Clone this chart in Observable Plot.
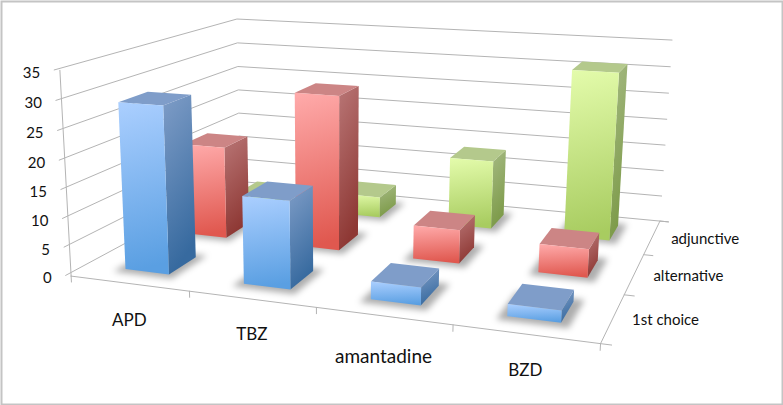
<!DOCTYPE html>
<html>
<head>
<meta charset="utf-8">
<script src="https://cdn.jsdelivr.net/npm/d3@7"></script>
<script src="https://cdn.jsdelivr.net/npm/@observablehq/plot@0.6"></script>
<style>html,body{margin:0;padding:0;background:#fff}svg{display:block}</style>
</head>
<body>
<div id="chart"></div>
<script>
const categories = ["APD", "TBZ", "amantadine", "BZD"];
const seriesNames = ["1st choice", "alternative", "adjunctive"];
const firstChoice = [29, 15, 3, 2];
const alternative = [17, 28, 6, 5];
const adjunctive = [2, 4, 13, 31];
const valueTicks = [0, 5, 10, 15, 20, 25, 30, 35];
const seriesValues = [firstChoice, alternative, adjunctive];
const palettes = [
  {id: "b", frontA: "#abcfff", frontB: "#5a9fe2", sideA: "#7f9dc7", sideB: "#376a9f", top: "#7f9dc9"},
  {id: "r", frontA: "#ffabab", frontB: "#e0584f", sideA: "#b97676", sideB: "#8e3834", top: "#cc8585"},
  {id: "g", frontA: "#e4fcac", frontB: "#a8cc60", sideA: "#a6ba84", sideB: "#7c9a48", top: "#b4c98c"}
];

// Perspective camera fitted to the box corners (u along categories, v into depth, w up)
const corners = [
  [0, 0, 0, 72, 274.7], [1, 0, 0, 600, 344], [1, 1, 0, 660, 219.5], [0, 1, 0, 238, 182],
  [0, 0, 1, 58, 70], [0, 1, 1, 238, 18], [1, 1, 1, 671, 40]
];
function fitCamera(pts) {
  const rows = [], rhs = [];
  for (const [u, v, w, x, y] of pts) {
    rows.push([u, v, w, 1, 0, 0, 0, 0, -x * u, -x * v, -x * w]); rhs.push(x);
    rows.push([0, 0, 0, 0, u, v, w, 1, -y * u, -y * v, -y * w]); rhs.push(y);
  }
  const n = 11, M = [];
  for (let i = 0; i < n; i++) {
    M[i] = [];
    for (let j = 0; j < n; j++) M[i][j] = d3.sum(rows, r => r[i] * r[j]);
    M[i][n] = d3.sum(rows, (r, k) => r[i] * rhs[k]);
  }
  for (let c = 0; c < n; c++) {
    let p = c;
    for (let i = c + 1; i < n; i++) if (Math.abs(M[i][c]) > Math.abs(M[p][c])) p = i;
    [M[c], M[p]] = [M[p], M[c]];
    for (let i = 0; i < n; i++) if (i !== c) {
      const f = M[i][c] / M[c][c];
      for (let j = c; j <= n; j++) M[i][j] -= f * M[c][j];
    }
  }
  return M.map((r, i) => r[n] / r[i]);
}
const cam = fitCamera(corners);
function project(u, v, w) {
  const d = cam[8] * u + cam[9] * v + cam[10] * w + 1;
  return [(cam[0] * u + cam[1] * v + cam[2] * w + cam[3]) / d,
          (cam[4] * u + cam[5] * v + cam[6] * w + cam[7]) / d];
}
const W = val => val / 35;
const uWidth = 0.375 / 4, vWidth = 0.445 / 3;
const uCenter = i => (i + 0.5) / 4, vCenter = j => (j + 0.5) / 3;

const quad = (a, b, c, d) => {
  const [pa, pb, pc, pd] = [a, b, c, d].map(p => project(...p));
  return [{x1: pa[0], y1: pa[1], x2: pd[0], y2: pd[1]}, {x1: pb[0], y1: pb[1], x2: pc[0], y2: pc[1]}];
};
const polyMark = (rows, opts) => Plot.area(rows, {x1: "x1", y1: "y1", x2: "x2", y2: "y2", curve: "linear", ...opts});
const seg = (a, b, opts = {}) => Plot.line([project(...a), project(...b)], {
  x: d => d[0], y: d => d[1], stroke: "#b4b4b4", strokeWidth: 1, ...opts});

const marks = [];
marks.push(Plot.frame({stroke: "#c4c4c4", strokeWidth: 2, inset: 1}));

// Walls and floor
for (const t of valueTicks) {
  marks.push(Plot.line([[-0.012, 0, W(t)], [0, 1, W(t)], [1, 1, W(t)]].map(p => project(...p)),
    {x: d => d[0], y: d => d[1], stroke: "#b4b4b4", strokeWidth: 1}));
}
marks.push(seg([0, 0, 0], [0, 0, 1]));
marks.push(Plot.line([[0, 0, 0], [1, 0, 0], [1, 1, 0], [1.018, 1, 0]].map(p => project(...p)),
  {x: d => d[0], y: d => d[1], stroke: "#b4b4b4", strokeWidth: 1}));
for (let i = 0; i <= 4; i++) marks.push(seg([i / 4, 0, 0], [i / 4, 0, -0.03]));
for (let j = 0; j <= 3; j++) marks.push(seg([1, j / 3, 0], [1.018, j / 3, 0]));

// Floor shadows
const shadowGrow = 0.014;
for (let j = 2; j >= 0; j--) for (let i = 0; i < 4; i++) {
  const u0 = uCenter(i) - uWidth / 2 - shadowGrow, u1 = uCenter(i) + uWidth / 2 + shadowGrow * 1.2;
  const v0 = vCenter(j) - vWidth / 2 - shadowGrow * 2, v1 = vCenter(j) + vWidth / 2 + shadowGrow * 1.5;
  marks.push(polyMark(quad([u0, v0, 0], [u1, v0, 0], [u1, v1, 0], [u0, v1, 0]),
    {fill: "#000", fillOpacity: 0.32, imageFilter: "blur(3px)"}));
}

// Bars, back row first, left to right
for (let j = 2; j >= 0; j--) for (let i = 0; i < 4; i++) {
  const h = W(seriesValues[j][i]), p = palettes[j];
  const u0 = uCenter(i) - uWidth / 2, u1 = uCenter(i) + uWidth / 2;
  const v0 = vCenter(j) - vWidth / 2, v1 = vCenter(j) + vWidth / 2;
  marks.push(polyMark(quad([u1, v0, h], [u1, v1, h], [u1, v1, 0], [u1, v0, 0]), {fill: `url(#${p.id}side)`}));
  marks.push(polyMark(quad([u0, v1, h], [u1, v1, h], [u1, v0, h], [u0, v0, h]), {fill: p.top}));
  marks.push(polyMark(quad([u0, v0, h], [u1, v0, h], [u1, v0, 0], [u0, v0, 0]), {fill: `url(#${p.id}front)`}));
}

// Labels
const font = "Lato";
const categoryNudge = [1, -1, 5, 0];
marks.push(Plot.text(valueTicks, {
  x: t => project(-0.012, 0, W(t))[0], y: t => project(-0.012, 0, W(t))[1], text: t => String(t),
  textAnchor: "end", dx: -14, dy: 3, fontSize: 15, fontFamily: font, fill: "#111"}));
marks.push(Plot.text(categories, {
  x: (c, i) => project(uCenter(i), 0, 0)[0], y: (c, i) => project(uCenter(i), 0, 0)[1] + categoryNudge[i], text: c => c,
  textAnchor: "middle", dy: 36, fontSize: c => c === c.toLowerCase() ? 19 : 17, fontFamily: font, fill: "#111"}));
marks.push(Plot.text(seriesNames, {
  x: (s, j) => project(1, vCenter(j), 0)[0], y: (s, j) => project(1, vCenter(j), 0)[1], text: s => s,
  textAnchor: "start", dx: 19, dy: 2, fontSize: 15, fontFamily: font, fill: "#111"}));

const plot = Plot.plot({
  width: 783, height: 405, margin: 0,
  x: {domain: [0, 783], range: [0, 783], axis: null},
  y: {domain: [0, 405], range: [0, 405], axis: null},
  style: {background: "#fff", overflow: "hidden"},
  marks
});
const defs = d3.select(plot).insert("defs", ":first-child");
for (const p of palettes) {
  for (const [face, a, b, x2] of [["front", p.frontA, p.frontB, "8%"], ["side", p.sideA, p.sideB, "25%"]]) {
    const g = defs.append("linearGradient").attr("id", p.id + face)
      .attr("x1", "0%").attr("y1", "0%").attr("x2", x2).attr("y2", "100%");
    g.append("stop").attr("offset", "0%").attr("stop-color", a);
    g.append("stop").attr("offset", "100%").attr("stop-color", b);
  }
}
document.getElementById("chart").append(plot);
</script>
</body>
</html>
